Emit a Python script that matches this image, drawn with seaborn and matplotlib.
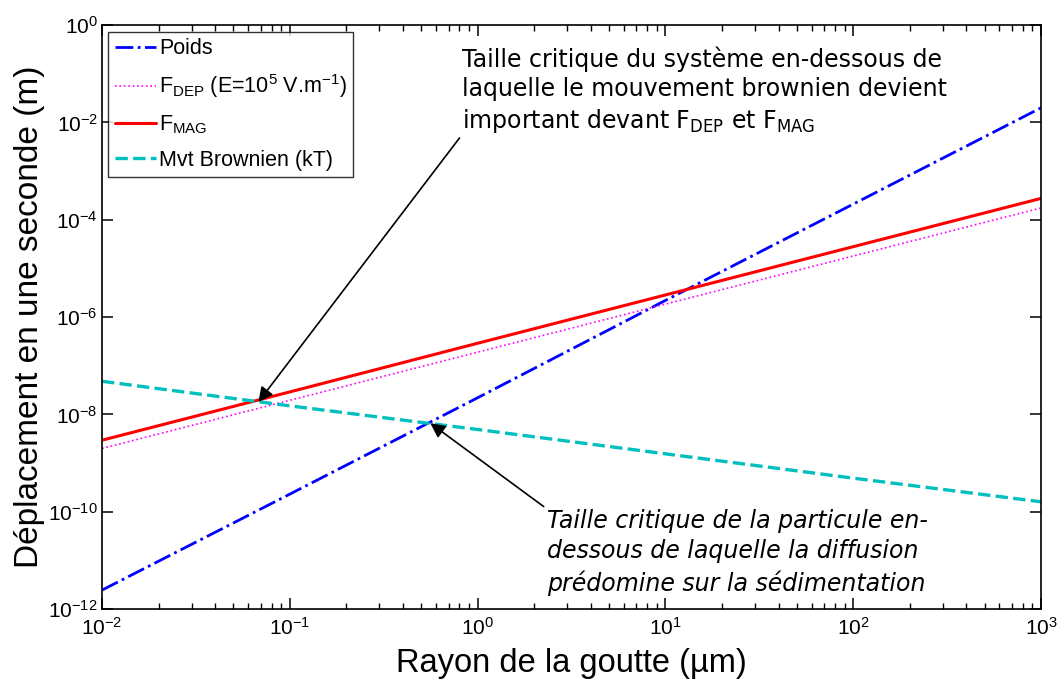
import numpy as np
import pandas as pd
import matplotlib
matplotlib.use("Agg")
import matplotlib.pyplot as plt
import matplotlib.ticker as mticker
import seaborn as sns

# Values (log-log straight lines)
rayon = [1e-2, 1e-1, 1e0, 1e1, 1e2, 1e3]  # µm
poids = [2.45e-12, 2.3e-10, 2.2e-8, 2.2e-6, 2.1e-4, 2.0e-2]
f_dep = [2.0e-9, 1.95e-8, 1.9e-7, 1.85e-6, 1.8e-5, 1.75e-4]
f_mag = [2.95e-9, 2.9e-8, 2.9e-7, 2.85e-6, 2.8e-5, 2.75e-4]
brownien = [4.8e-8, 1.5e-8, 4.9e-9, 1.55e-9, 4.9e-10, 1.6e-10]

y_ticks = [1e-12, 1e-10, 1e-8, 1e-6, 1e-4, 1e-2, 1e0]

df = pd.DataFrame({"r": rayon, "poids": poids, "dep": f_dep,
                   "mag": f_mag, "brown": brownien})

sns.set_style("white")
plt.rcParams["font.family"] = ["Liberation Sans", "DejaVu Sans"]
plt.rcParams["mathtext.default"] = "regular"
plt.rcParams["text.color"] = "black"
plt.rcParams["axes.labelcolor"] = "black"
plt.rcParams["xtick.color"] = "black"
plt.rcParams["ytick.color"] = "black"

fig = plt.figure(figsize=(10.58, 6.79), dpi=100)
ax = fig.add_axes([0.0964, 0.103, 0.8876, 0.860])

sns.lineplot(data=df, x="r", y="poids", ax=ax, color="#0000FF",
             linestyle="-.", linewidth=2, label="Poids")
sns.lineplot(data=df, x="r", y="dep", ax=ax, color="#FF00FF",
             linestyle=":", linewidth=1.2,
             label=r"F$_{DEP}$ (E=10$^{5}$ V.m$^{-1}$)")
sns.lineplot(data=df, x="r", y="mag", ax=ax, color="#FF0000",
             linestyle="-", linewidth=2.2, label=r"F$_{MAG}$")
sns.lineplot(data=df, x="r", y="brown", ax=ax, color="#00BFBF",
             linestyle="--", linewidth=2.4, label="Mvt Brownien (kT)")

ax.set_xscale("log")
ax.set_yscale("log")
ax.set_xlim(1e-2, 1e3)
ax.set_ylim(1e-12, 1e0)
ax.minorticks_on()
ax.yaxis.set_major_locator(mticker.FixedLocator(y_ticks))
ax.yaxis.set_minor_locator(mticker.NullLocator())
ax.xaxis.set_major_locator(mticker.LogLocator(base=10, numticks=10))
ax.xaxis.set_minor_locator(mticker.LogLocator(base=10, subs="auto", numticks=10))
ax.xaxis.set_minor_formatter(mticker.NullFormatter())

ax.tick_params(which="both", direction="in", bottom=True, left=True,
               top=True, right=True, labelsize=15, color="black",
               labelcolor="black")
ax.tick_params(which="major", length=8, width=1.1)
ax.tick_params(which="minor", length=4, width=1)
ax.tick_params(axis="x", pad=6)
ax.tick_params(axis="y", pad=3)
for s in ax.spines.values():
    s.set_color("black")
    s.set_linewidth(1.2)

ax.set_xlabel("Rayon de la goutte (µm)", fontsize=23.5, labelpad=6)
ax.set_ylabel("Déplacement en une seconde (m)", fontsize=24, labelpad=2)

leg = ax.legend(loc="upper left", fontsize=15.5, frameon=True, fancybox=False,
                borderaxespad=0.3, handlelength=1.9, handletextpad=0.15,
                labelspacing=0.62, borderpad=0.3)
leg.get_frame().set_edgecolor("black")
leg.get_frame().set_linewidth(1.0)

ann_font = ["DejaVu Sans"]
ax.annotate("Taille critique du système en-dessous de\n"
            "laquelle le mouvement brownien devient\n"
            r"important devant F$_{DEP}$ et F$_{MAG}$",
            xy=(0.068, 1.8e-8), xycoords="data",
            xytext=(462, 633), textcoords="figure pixels",
            fontsize=17, family=ann_font, ha="left", va="top",
            linespacing=1.28,
            arrowprops=dict(arrowstyle="-|>", color="black", lw=1.2,
                            mutation_scale=22, shrinkA=0, shrinkB=0,
                            relpos=(0.0, 0.0)))

ax.annotate("Taille critique de la particule en-\n"
            "dessous de laquelle la diffusion\n"
            "prédomine sur la sédimentation",
            xy=(0.56, 6.6e-9), xycoords="data",
            xytext=(547, 170), textcoords="figure pixels",
            fontsize=17, family=ann_font, style="italic",
            ha="left", va="top", linespacing=1.33,
            arrowprops=dict(arrowstyle="-|>", color="black", lw=1.2,
                            mutation_scale=22, shrinkA=0, shrinkB=0,
                            relpos=(0.0, 1.0)))

fig.savefig("out.png", dpi=100)
